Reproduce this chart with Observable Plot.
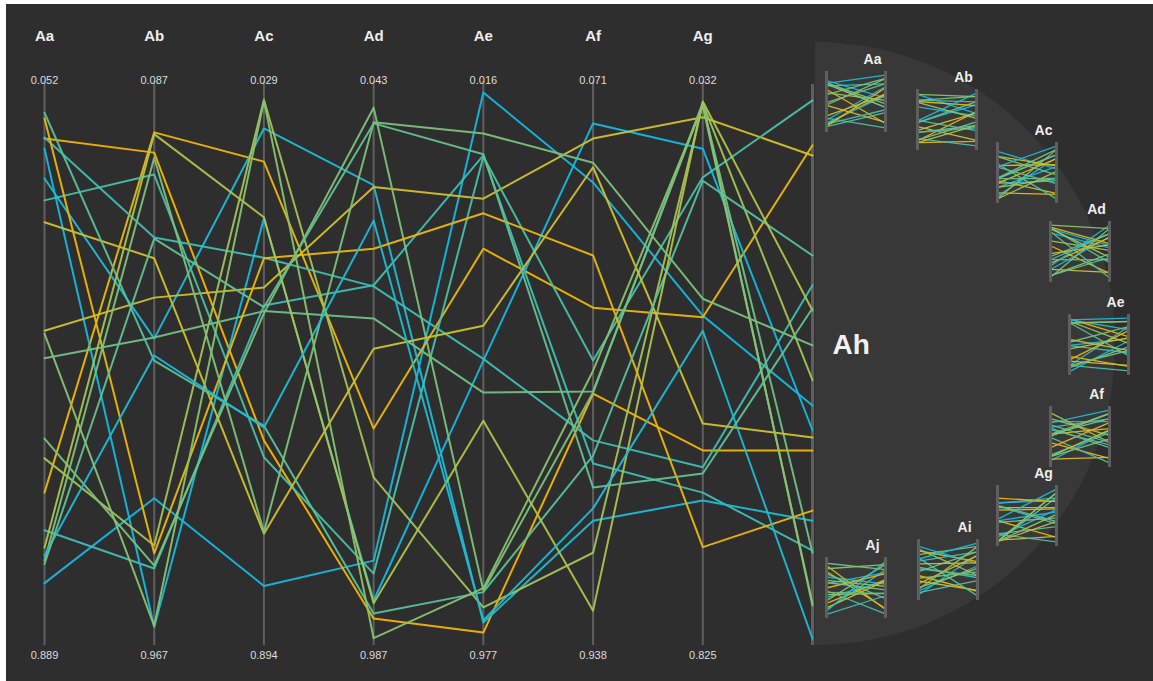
<!DOCTYPE html>
<html><head><meta charset="utf-8">
<script src="https://cdn.jsdelivr.net/npm/d3@7"></script>
<script src="https://cdn.jsdelivr.net/npm/@observablehq/plot@0.6"></script>
<style>
html,body{margin:0;padding:0;background:#fff;width:1153px;height:681px;overflow:hidden;font-family:"Liberation Sans",Arial,sans-serif}
#bg{position:absolute;left:6px;top:4px;width:1147px;height:677px;background:#2e2e2e}
#semi{position:absolute;left:815px;top:42px;width:300px;height:603px;background:#383838;border-radius:0 301px 301px 0 / 0 301px 301px 0}
#main{position:absolute;left:0;top:0}
.sm{position:absolute}
</style></head><body>
<div id="bg"></div><div id="semi"></div><div id="main"></div><div id="small"></div>
<script>
// ---- data ----
const mainAxes = ["Aa","Ab","Ac","Ad","Ae","Af","Ag","Ah"];
const topLabels = ["0.052","0.087","0.029","0.043","0.016","0.071","0.032"];
const bottomLabels = ["0.889","0.967","0.894","0.987","0.977","0.938","0.825"];
const tone = [1.0,0.0,0.05,0.8,0.95,1.0,0.2,0.75,0.8,0.4,0.55,0.6,0.05,0.2,0.7,0.35,0.55,0.95,0.5,0.65];
const Aa = [0.889,0.098,0.728,0.795,0.169,0.116,0.440,0.208,0.096,0.667,0.632,0.489,0.062,0.247,0.052,0.826,0.849,0.840,0.445,0.855];
const Ab = [0.738,0.123,0.087,0.863,0.454,0.967,0.381,0.162,0.274,0.822,0.858,0.452,0.836,0.311,0.493,0.090,0.132,0.484,0.965,0.276];
const Ac = [0.894,0.635,0.139,0.395,0.080,0.240,0.363,0.665,0.310,0.029,0.409,0.405,0.311,0.801,0.609,0.238,0.798,0.612,0.031,0.398];
const Ad = [0.849,0.952,0.614,0.359,0.181,0.920,0.184,0.872,0.361,0.701,0.043,0.418,0.294,0.472,0.943,0.925,0.069,0.244,0.987,0.071];
const Ae = [0.016,0.977,0.294,0.128,0.959,0.493,0.205,0.130,0.490,0.932,0.902,0.550,0.231,0.431,0.905,0.600,0.089,0.955,0.898,0.126];
const Af = [0.176,0.552,0.399,0.676,0.778,0.071,0.098,0.493,0.635,0.835,0.550,0.548,0.306,0.149,0.662,0.938,0.141,0.756,0.511,0.719];
const Ag = [0.413,0.653,0.416,0.728,0.742,0.116,0.060,0.167,0.683,0.036,0.034,0.038,0.825,0.605,0.173,0.032,0.383,0.440,0.040,0.694];
const Ah = [0.573,0.653,0.110,0.831,0.778,0.617,0.128,0.030,0.359,0.528,0.929,0.835,0.760,0.630,0.306,0.404,0.466,0.988,0.925,0.400];
const Ai = [0.12,0.85,0.40,0.66,0.05,0.93,0.30,0.72,0.55,0.18,0.78,0.47,0.25,0.61,0.09,0.88,0.35,0.70,0.15,0.52];
const Aj = [0.70,0.22,0.91,0.10,0.58,0.33,0.80,0.45,0.02,0.64,0.27,0.95,0.50,0.14,0.76,0.38,0.60,0.08,0.85,0.42];
const palette = ["#f4b400","#d3c22c","#a2c35a","#6fc186","#3ebfb2","#14b8e0"];
const panelNames = ["Aa","Ab","Ac","Ad","Ae","Af","Ag","Ai","Aj"];
const panelLeft = [826,917,997,1050,1069,1050,997,918,826];
const panelTop  = [71,89,142,221,314,406,485,539,557];

// ---- build ----
const series = [Aa,Ab,Ac,Ad,Ae,Af,Ag,Ah];
const allSeries = {Aa,Ab,Ac,Ad,Ae,Af,Ag,Ah,Ai,Aj};
const ids = d3.range(tone.length);
const rows = ids.flatMap(i => series.map((s,j) => ({id:i, axis:j, value:s[i], tone:tone[i]})));
const color = {type:"linear", domain:[0,1], interpolate: d3.interpolateRgbBasis(palette)};
const axisCol = "#5f5f5f";
const font = "'Liberation Sans', Arial, sans-serif";

const main = Plot.plot({
  width:1153, height:681, margin:0,
  style:{background:"transparent", overflow:"visible", fontFamily:font},
  x:{type:"linear", domain:[0,7], range:[44,812], axis:null},
  y:{type:"linear", domain:[0,1], range:[83,645], axis:null},
  color,
  marks:[
    Plot.ruleX(d3.range(7), {x:d=>d, y1:-0.004, y2:1, stroke:axisCol, strokeWidth:2}),
    Plot.ruleX([7], {x:d=>d, y1:0.002, y2:1, stroke:axisCol, strokeWidth:3}),
    Plot.line(rows, {x:"axis", y:"value", z:"id", stroke:"tone", strokeWidth:2, strokeOpacity:0.95}),
    Plot.text(mainAxes.slice(0,7), {x:(d,i)=>i, frameAnchor:"top", lineAnchor:"middle", dy:36, text:d=>d, fill:"#eeeeee", fontSize:15, fontWeight:"bold"}),
    Plot.text(topLabels, {x:(d,i)=>i, frameAnchor:"top", lineAnchor:"middle", dy:80, text:d=>d, fill:"#dddddd", fontSize:11}),
    Plot.text(bottomLabels, {x:(d,i)=>i, frameAnchor:"top", lineAnchor:"middle", dy:655, text:d=>d, fill:"#dddddd", fontSize:11}),
    Plot.text(["Ah"], {x:7, y:0.466, dx:20, text:d=>d, textAnchor:"start", lineAnchor:"middle", fill:"#f2f2f2", fontSize:28, fontWeight:"bold"})
  ]
});
document.getElementById("main").appendChild(main);

const small = document.getElementById("small");
panelNames.forEach((name,k) => {
  const s = allSeries[name];
  const sm = ids.flatMap(i => [{id:i, side:0, v:s[i], tone:tone[i]}, {id:i, side:1, v:Ah[i], tone:tone[i]}]);
  const p = Plot.plot({
    width:80, height:88, marginTop:24, marginBottom:3, marginLeft:11, marginRight:10,
    style:{background:"transparent", overflow:"visible", fontFamily:font},
    x:{domain:[0,1], axis:null},
    y:{domain:[0,1], axis:null, inset:3},
    color,
    marks:[
      Plot.line(sm, {x:"side", y:"v", z:"id", stroke:"tone", strokeWidth:1.3, strokeOpacity:0.95}),
      Plot.ruleX([0,1], {x:d=>d, stroke:axisCol, strokeWidth:3}),
      Plot.text([name], {x:0.78, frameAnchor:"top", lineAnchor:"middle", dy:-12, text:d=>d, fill:"#eeeeee", fontSize:14, fontWeight:"bold"})
    ]
  });
  const wrap = document.createElement("div");
  wrap.className = "sm";
  wrap.style.left = (panelLeft[k]-11)+"px";
  wrap.style.top = (panelTop[k]-24)+"px";
  wrap.appendChild(p);
  small.appendChild(wrap);
});
</script>
</body></html>
